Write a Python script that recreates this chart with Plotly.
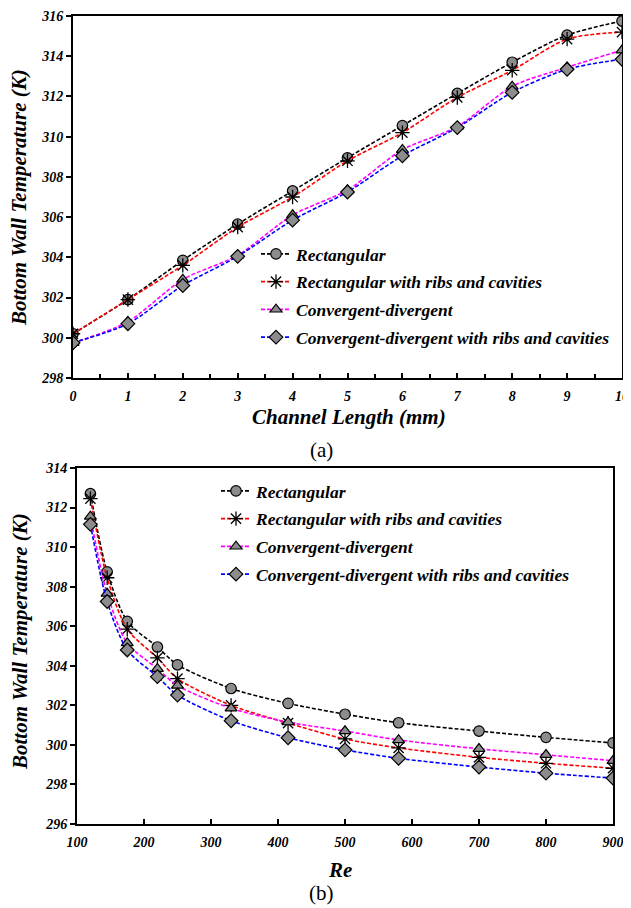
import plotly.graph_objects as go

# ---------- data (a) ----------
channel_length = [0, 1, 2, 3, 4, 5, 6, 7, 8, 9, 10]
a_rect = [300.2, 301.9, 303.85, 305.65, 307.3, 308.95, 310.55, 312.15, 313.7, 315.05, 315.75]
a_rect_ribs = [300.2, 301.9, 303.6, 305.5, 307.0, 308.8, 310.2, 311.95, 313.3, 314.85, 315.2]
a_cd = [299.75, 300.8, 302.9, 304.1, 306.1, 307.35, 309.35, 310.5, 312.5, 313.45, 314.3]
a_cd_ribs = [299.75, 300.7, 302.6, 304.05, 305.85, 307.25, 309.05, 310.45, 312.2, 313.35, 313.85]

# ---------- data (b) ----------
re_vals = [120, 145, 175, 220, 250, 330, 415, 500, 580, 700, 800, 900]
b_rect = [312.7, 308.75, 306.25, 304.95, 304.05, 302.85, 302.1, 301.55, 301.12, 300.7, 300.38, 300.1]
b_rect_ribs = [312.45, 308.45, 305.85, 304.4, 303.35, 302.0, 301.1, 300.3, 299.85, 299.37, 299.07, 298.82]
b_cd = [311.55, 307.65, 305.15, 303.85, 303.0, 301.85, 301.15, 300.7, 300.25, 299.8, 299.5, 299.2]
b_cd_ribs = [311.15, 307.25, 304.8, 303.45, 302.52, 301.22, 300.36, 299.75, 299.32, 298.88, 298.57, 298.32]

names = ["Rectangular", "Rectangular with ribs and cavities",
         "Convergent-divergent", "Convergent-divergent with ribs and cavities"]
colors = ["black", "red", "magenta", "blue"]
symbols = ["circle", "asterisk-open", "triangle-up", "diamond"]

FONT = "'Liberation Serif', 'Times New Roman', Times, serif"
bi = dict(family=FONT, color="black", weight="bold", style="italic")

fig = go.Figure()

def add_series(x, ys, xa, ya, legend):
    for i, y in enumerate(ys):
        sym = symbols[i]
        if sym == "asterisk-open":
            marker = dict(symbol=sym, size=12, color="black", line=dict(color="black", width=1.3))
        else:
            marker = dict(symbol=sym, size=10.5, color="#8c8c8c", line=dict(color="black", width=1.2))
        fig.add_trace(go.Scatter(
            x=x, y=y, name=names[i], mode="lines+markers",
            line=dict(color=colors[i], width=1.6, dash="4px,2px", shape="spline", smoothing=0.8),
            marker=marker, xaxis=xa, yaxis=ya, legend=legend,
            legendgroup=legend + str(i),
        ))

add_series(channel_length, [a_rect, a_rect_ribs, a_cd, a_cd_ribs], "x", "y", "legend")
add_series(re_vals, [b_rect, b_rect_ribs, b_cd, b_cd_ribs], "x2", "y2", "legend2")

axis_common = dict(showline=True, linecolor="black", linewidth=2, mirror=True,
                   showgrid=False, zeroline=False, tickcolor="black",
                   automargin=False, ticklabeloverflow="allow",
                   tickfont=dict(size=14, **bi))

# the page body has an 8px margin, so the figure is offset by 8px
OFF = 8
W, H = 631 - OFF, 908 - OFF

def px(x):
    return (x - OFF) / W

def py(y):
    return 1 - (y - OFF) / H

fig.update_layout(
    width=W, height=H, margin=dict(l=0, r=0, t=0, b=0, autoexpand=False),
    paper_bgcolor="white", plot_bgcolor="white",
    showlegend=True,
    xaxis=dict(domain=[px(73), px(622)], anchor="y", range=[0, 10], dtick=1,
               ticks="inside", ticklen=5, tickwidth=1.5, ticklabelstandoff=4,
               minor=dict(dtick=0.5, ticks="inside", ticklen=4, tickcolor="black", tickwidth=1.5),
               **axis_common),
    yaxis=dict(domain=[py(378), py(16)], anchor="x", range=[298, 316], dtick=2,
               ticks="outside", ticklen=5, tickwidth=1.5,
               **axis_common),
    xaxis2=dict(domain=[px(77), px(613)], anchor="y2", range=[100, 900], dtick=100,
                ticks="inside", ticklen=5, tickwidth=1.5, ticklabelstandoff=4,
                **axis_common),
    yaxis2=dict(domain=[py(824), py(468)], anchor="x2", range=[296, 314], dtick=2,
                ticks="outside", ticklen=5, tickwidth=1.5,
                **axis_common),
    legend=dict(x=px(256), y=py(236), xanchor="left", yanchor="top",
                bgcolor="rgba(0,0,0,0)", font=dict(size=17.5, **bi),
                tracegroupgap=2, itemwidth=30),
    legend2=dict(x=px(216), y=py(473), xanchor="left", yanchor="top",
                 bgcolor="rgba(0,0,0,0)", font=dict(size=17.5, **bi),
                 tracegroupgap=2, itemwidth=30),
    annotations=[
        dict(text="Bottom Wall Temperature (K)", x=px(19), y=py(198), textangle=-90,
             font=dict(size=21, **bi)),
        dict(text="Channel Length (mm)", x=px(349), y=py(417), font=dict(size=21, **bi)),
        dict(text="(a)", x=px(321), y=py(450), font=dict(family=FONT, size=21, color="black")),
        dict(text="Bottom Wall Temperature (K)", x=px(20), y=py(642), textangle=-90,
             font=dict(size=21, **bi)),
        dict(text="Re", x=px(340), y=py(870), font=dict(size=21, **bi)),
        dict(text="(b)", x=px(321), y=py(893), font=dict(family=FONT, size=21, color="black")),
    ],
)
for a in fig.layout.annotations:
    a.update(xref="paper", yref="paper", xanchor="center", yanchor="middle", showarrow=False)

fig.write_html("out.html")
